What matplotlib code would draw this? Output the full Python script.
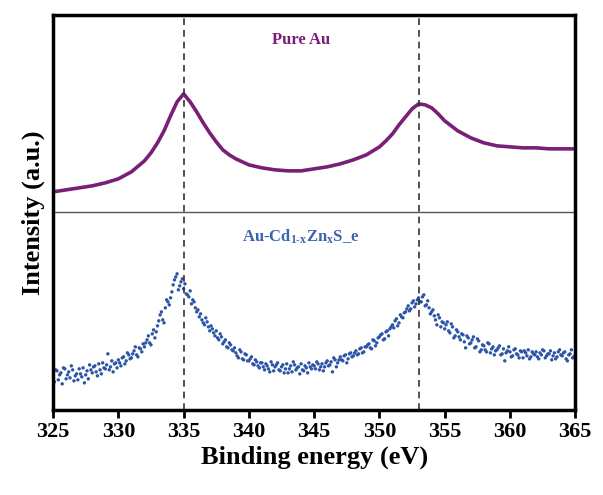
import numpy as np
import matplotlib.pyplot as plt

plt.rcParams['font.family'] = 'Liberation Serif'
plt.rcParams['font.weight'] = 'bold'
plt.rcParams['mathtext.fontset'] = 'custom'
plt.rcParams['mathtext.rm'] = 'Liberation Serif:bold'
plt.rcParams['mathtext.it'] = 'Liberation Serif:bold'
plt.rcParams['mathtext.bf'] = 'Liberation Serif:bold'

# Pure Au spectrum (top, offset a.u.)
au_energy = [325.0, 326.0, 327.0, 328.0, 329.0, 330.0, 331.0, 332.0, 332.5, 333.0,
             333.5, 334.0, 334.5, 335.0, 335.5, 336.0, 336.5, 337.0, 337.5, 338.0,
             338.5, 339.0, 340.0, 341.0, 342.0, 343.0, 344.0, 345.0, 346.0, 347.0,
             348.0, 349.0, 350.0, 350.5, 351.0, 351.5, 352.0, 352.5, 353.0, 353.5,
             354.0, 354.5, 355.0, 355.5, 356.0, 357.0, 358.0, 359.0, 360.0, 361.0,
             362.0, 363.0, 364.0, 365.0]
au_intensity = [2.18, 2.20, 2.22, 2.24, 2.27, 2.31, 2.38, 2.49, 2.57, 2.67,
                2.79, 2.94, 3.08, 3.16, 3.08, 2.98, 2.87, 2.77, 2.68, 2.60,
                2.55, 2.51, 2.45, 2.42, 2.40, 2.39, 2.39, 2.41, 2.43, 2.46,
                2.50, 2.55, 2.63, 2.69, 2.76, 2.85, 2.93, 3.01, 3.06, 3.05,
                3.02, 2.96, 2.89, 2.84, 2.79, 2.72, 2.67, 2.64, 2.63, 2.62,
                2.62, 2.61, 2.61, 2.61]

# Au-Cd1-xZnxS_e spectrum (bottom): two interleaved 0.2 eV grids
cds_energy_a = np.linspace(325.0, 365.0, 201)
cds_intensity_a = [
    0.33, 0.40, 0.30, 0.37, 0.42,  0.31, 0.38, 0.44, 0.29, 0.36,
    0.41, 0.33, 0.27, 0.39, 0.45,  0.37, 0.44, 0.34, 0.40, 0.47,
    0.41, 0.56, 0.43, 0.38, 0.47,  0.50, 0.44, 0.53, 0.49, 0.55,
    0.52, 0.59, 0.55, 0.62, 0.58,  0.63, 0.70, 0.67, 0.76, 0.72,
    0.84, 0.95, 0.90, 1.02, 1.08,  1.12, 1.25, 1.33, 1.20, 1.28,
    1.21, 1.16, 1.13, 1.06, 1.08,  0.98, 0.93, 0.90, 0.85, 0.88,
    0.79, 0.81, 0.74, 0.72, 0.76,  0.66, 0.70, 0.62, 0.65, 0.59,
    0.57, 0.52, 0.58, 0.50, 0.55,  0.49, 0.53, 0.45, 0.48, 0.42,
    0.47, 0.40, 0.44, 0.38, 0.45,  0.43, 0.47, 0.39, 0.45, 0.41,
    0.37, 0.44, 0.48, 0.40, 0.43,  0.46, 0.39, 0.42, 0.47, 0.41,
    0.44, 0.48, 0.40, 0.46, 0.43,  0.49, 0.45, 0.38, 0.50, 0.47,
    0.53, 0.49, 0.55, 0.51, 0.57,  0.54, 0.59, 0.56, 0.62, 0.58,
    0.63, 0.66, 0.61, 0.69, 0.67,  0.73, 0.76, 0.71, 0.79, 0.81,
    0.85, 0.89, 0.84, 0.95, 0.92,  0.98, 1.04, 1.01, 1.09, 1.06,
    1.12, 1.08, 1.15, 1.05, 1.02,  0.98, 0.94, 0.85, 0.92, 0.88,
    0.81, 0.88, 0.77, 0.83, 0.74,  0.78, 0.70, 0.75, 0.62, 0.72,
    0.67, 0.73, 0.63, 0.69, 0.60,  0.64, 0.58, 0.66, 0.61, 0.55,
    0.60, 0.64, 0.56, 0.49, 0.59,  0.58, 0.54, 0.61, 0.55, 0.59,
    0.52, 0.57, 0.60, 0.53, 0.56,  0.58, 0.51, 0.55, 0.59, 0.54,
    0.56, 0.50, 0.57, 0.53, 0.60,  0.54, 0.58, 0.49, 0.56, 0.52,
    0.55]
cds_energy_b = np.linspace(325.1, 364.9, 200)
cds_intensity_b = [
    0.28, 0.39, 0.35, 0.26, 0.41,  0.35, 0.32, 0.40, 0.34, 0.30,
    0.36, 0.42, 0.35, 0.31, 0.40,  0.43, 0.38, 0.46, 0.36, 0.42,
    0.45, 0.40, 0.49, 0.46, 0.42,  0.47, 0.52, 0.46, 0.57, 0.51,
    0.56, 0.63, 0.53, 0.61, 0.66,  0.67, 0.74, 0.65, 0.80, 0.78,
    0.89, 0.98, 0.87, 1.10, 1.05,  1.18, 1.30, 1.36, 1.24, 1.31,
    1.26, 1.15, 1.19, 1.10, 1.02,  1.00, 0.96, 0.87, 0.92, 0.83,
    0.84, 0.77, 0.79, 0.70, 0.73,  0.68, 0.63, 0.67, 0.60, 0.62,
    0.54, 0.60, 0.51, 0.56, 0.49,  0.51, 0.46, 0.50, 0.44, 0.47,
    0.43, 0.46, 0.41, 0.48, 0.39,  0.45, 0.40, 0.43, 0.37, 0.46,
    0.41, 0.38, 0.45, 0.42, 0.36,  0.40, 0.44, 0.37, 0.43, 0.45,
    0.41, 0.46, 0.43, 0.39, 0.47,  0.44, 0.48, 0.52, 0.43, 0.50,
    0.50, 0.54, 0.47, 0.56, 0.53,  0.57, 0.55, 0.61, 0.57, 0.63,
    0.65, 0.62, 0.70, 0.64, 0.72,  0.75, 0.70, 0.78, 0.74, 0.83,
    0.82, 0.91, 0.87, 0.93, 0.97,  1.01, 0.99, 1.07, 1.03, 1.10,
    1.08, 1.13, 1.04, 1.09, 0.96,  1.00, 0.90, 0.95, 0.83, 0.87,
    0.85, 0.79, 0.86, 0.72, 0.80,  0.73, 0.76, 0.68, 0.74, 0.66,
    0.70, 0.62, 0.71, 0.58, 0.65,  0.60, 0.67, 0.57, 0.63, 0.59,
    0.62, 0.55, 0.61, 0.57, 0.63,  0.53, 0.60, 0.56, 0.52, 0.58,
    0.59, 0.54, 0.51, 0.58, 0.55,  0.53, 0.57, 0.60, 0.52, 0.56,
    0.59, 0.54, 0.51, 0.58, 0.55,  0.57, 0.51, 0.55, 0.60, 0.53]

peak_positions = [335, 353]
xticks = [325, 330, 335, 340, 345, 350, 355, 360, 365]

fig = plt.figure(figsize=(6.03, 4.95), dpi=100)
ax = fig.add_axes([0.088, 0.172, 0.866, 0.798])

ax.plot(au_energy, au_intensity, color='#7a1f78', lw=2.6)
ax.scatter(np.concatenate([cds_energy_a, cds_energy_b]),
           cds_intensity_a + cds_intensity_b,
           s=6, color='#2c55a8', edgecolors='none')

for p in peak_positions:
    ax.axvline(p, color='#333333', ls=(0, (4, 3)), lw=1.2)
ax.axhline(1.98, color='#555555', lw=1)

ax.text(344, 3.70, 'Pure Au', color='#7a1f78', fontsize=12,
        ha='center', va='center', fontweight='bold')
ax.text(344, 1.73, 'Au-Cd$_{\\mathrm{1\u2010x}}$Zn$_{\\mathrm{x}}$S_e', color='#3a63b0',
        fontsize=12, ha='center', va='center', fontweight='bold')

ax.set_xlim(325, 365)
ax.set_ylim(0, 3.95)
ax.set_xticks(xticks)
ax.set_yticks([])
ax.tick_params(axis='x', direction='out', length=6, width=2, labelsize=16, pad=3)
for s in ax.spines.values():
    s.set_linewidth(2.5)

ax.set_xlabel('Binding energy (eV)', fontsize=19, fontweight='bold', labelpad=2)
ax.set_ylabel('Intensity (a.u.)', fontsize=19, fontweight='bold', labelpad=6)

fig.savefig('out.png', dpi=100)
